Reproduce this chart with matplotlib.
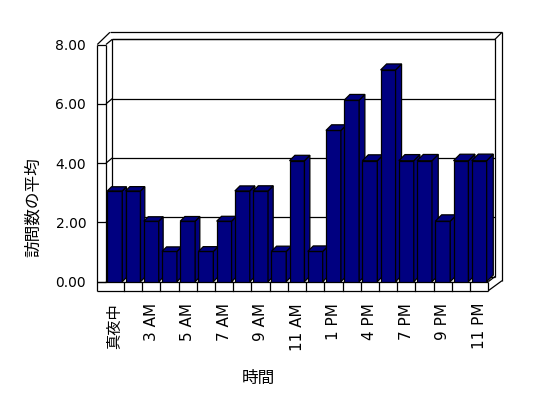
import matplotlib
matplotlib.use('Agg')
import matplotlib.pyplot as plt
from matplotlib.patches import Polygon
from matplotlib.transforms import blended_transform_factory

# ---------------- data ----------------
categories = ['真夜中', '1 AM', '3 AM', '4 AM', '5 AM', '6 AM', '7 AM', '8 AM',
              '9 AM', '10 AM', '11 AM', '正午', '1 PM', '2 PM', '4 PM', '5 PM',
              '7 PM', '8 PM', '9 PM', '10 PM', '11 PM']
values = [3, 3, 2, 1, 2, 1, 2, 3, 3, 1, 4, 1, 5, 6, 4, 7, 4, 4, 2, 4, 4]
y_ticks = [0, 2, 4, 6, 8]
y_tick_labels = ['0.00', '2.00', '4.00', '6.00', '8.00']
x_title = '時間'
y_title = '訪問数の平均'

# ---------------- figure ----------------
W, H = 548, 398
fig = plt.figure(figsize=(W / 100, H / 100), dpi=100)
fig.patch.set_facecolor('white')

def fx(px):
    return px / W

def fy(py):
    return 1 - py / H

LW = 0.9
BAR_COLOR = '#000080'
CJK = ['Noto Sans CJK JP', 'DejaVu Sans']
LAT = ['DejaVu Sans', 'Noto Sans CJK JP']

# pixel overlay for the 3-D box (walls and floor)
ax_px = fig.add_axes([0, 0, 1, 1], zorder=1)
ax_px.set_xlim(0, W)
ax_px.set_ylim(H, 0)
ax_px.axis('off')

# box geometry (pixels)
FX0, FX1 = 97.3, 106.0        # left wall front face (outer / inner)
BX0, BX1 = 112.3, 495.0       # back wall inner face left / right
OX1 = 502.0                   # back wall outer right
TOP_OUT = 32.3
FLOOR_TOP, FLOOR_BOT, FLOOR_R = 281.7, 290.7, 488.3
YMAX = y_ticks[-1]

def yf(v):  # front plane
    return 281.7 - (281.7 - 44.5) * v / YMAX

def yb(v):  # back wall
    return 276.5 - (276.5 - 39.3) * v / YMAX

def seg(x0, y0, x1, y1):
    ax_px.plot([x0, x1], [y0, y1], color='black', lw=LW, solid_capstyle='butt')

# back wall inner face
seg(BX0, yb(YMAX), BX1, yb(YMAX))
seg(BX1, yb(YMAX), BX1, yb(0))
seg(BX0, yb(YMAX), BX0, yb(0))
# gridlines: left wall front tick, left wall inner diagonal, back wall line
for v in y_ticks:
    seg(FX0, yf(v), FX1, yf(v))
    seg(FX1, yf(v), BX0, yb(v))
    seg(BX0, yb(v), BX1, yb(v))
# top of walls
dxo, dyo = (BX0 - FX1) * 2, (yf(YMAX) - yb(YMAX)) * 2
seg(FX0, yf(YMAX), FX0 + dxo, TOP_OUT)
seg(FX0 + dxo, TOP_OUT, OX1, TOP_OUT)
seg(BX1, yb(YMAX), OX1, TOP_OUT)
seg(OX1, TOP_OUT, OX1, 280.7)
# left wall front face
seg(FX0, yf(YMAX), FX0, FLOOR_BOT)
seg(FX1, yf(YMAX), FX1, FLOOR_TOP)
# floor front face
seg(FX0, FLOOR_TOP, FLOOR_R, FLOOR_TOP)
seg(FX0, FLOOR_BOT, FLOOR_R, FLOOR_BOT)
seg(FLOOR_R, FLOOR_TOP, FLOOR_R, FLOOR_BOT)
seg(FLOOR_R, FLOOR_TOP, BX1, yb(0))
seg(FLOOR_R, FLOOR_BOT, OX1, 280.7)

# ---------------- bars ----------------
BAR_L, BAR_R, BAR_B, BAR_T = 105.7, 488.3, 281.7, 39.7
ax = fig.add_axes([fx(BAR_L), fy(BAR_B), fx(BAR_R) - fx(BAR_L), (BAR_B - BAR_T) / H], zorder=2)
n = len(values)
x = list(range(n))
ax.set_xlim(-0.5, n - 0.5)
ax.set_ylim(0, YMAX)
ax.patch.set_visible(False)
for s in ax.spines.values():
    s.set_visible(False)
ax.set_yticks([])

CW = (BAR_R - BAR_L) / n
PPU = (BAR_B - BAR_T) / YMAX
bw = 0.82
rects = ax.bar(x, values, width=bw, color=BAR_COLOR, edgecolor='black', linewidth=LW)
for i, (r, v) in enumerate(zip(rects, values)):
    r.set_zorder(3 + 3 * i)
    d = 4.2 + 2.4 * i / (n - 1)
    ddx, ddy = d / CW, d / PPU
    xl, xr = i - bw / 2, i + bw / 2
    side = Polygon([(xr, 0), (xr, v), (xr + ddx, v + ddy), (xr + ddx, ddy)], closed=True,
                   facecolor=BAR_COLOR, edgecolor='black', lw=LW, zorder=4 + 3 * i, clip_on=False)
    top = Polygon([(xl, v), (xr, v), (xr + ddx, v + ddy), (xl + ddx, v + ddy)], closed=True,
                  facecolor=BAR_COLOR, edgecolor='black', lw=LW, zorder=4 + 3 * i, clip_on=False)
    ax.add_patch(side)
    ax.add_patch(top)

# floor cell dividers
trans = blended_transform_factory(ax.transData, ax_px.transData)
for k in range(n - 1):
    ax.plot([k + 0.5, k + 0.5], [FLOOR_TOP, FLOOR_BOT], transform=trans, color='black',
            lw=LW, clip_on=False, zorder=1)

# x tick labels
tick_idx = list(range(0, n, 2))
ax.set_xticks(tick_idx)
ax.set_xticklabels([categories[i] for i in tick_idx], rotation=90, fontsize=11, family=LAT)
ax.tick_params(axis='x', length=0, pad=15.3)
ax.set_xlabel(x_title, fontsize=12, family=CJK)
ax.xaxis.set_label_coords(258 / W, fy(378), transform=fig.transFigure)
ax.xaxis.label.set_va('center')

# ---------------- y axis (front plane) ----------------
axf = fig.add_axes([fx(FX0), fy(yf(0)), 1 / W, (yf(0) - yf(YMAX)) / H], zorder=2)
axf.set_ylim(0, YMAX)
axf.patch.set_visible(False)
for s in axf.spines.values():
    s.set_visible(False)
axf.set_xticks([])
axf.set_yticks(y_ticks)
axf.set_yticklabels(y_tick_labels, fontsize=10, family=LAT)
axf.tick_params(axis='y', length=0, pad=8)
axf.set_ylabel(y_title, fontsize=12, family=CJK)
axf.yaxis.set_label_coords(33 / W, fy(207), transform=fig.transFigure)
axf.yaxis.label.set_va('center')

fig.savefig('out.png', dpi=100, facecolor='white')
